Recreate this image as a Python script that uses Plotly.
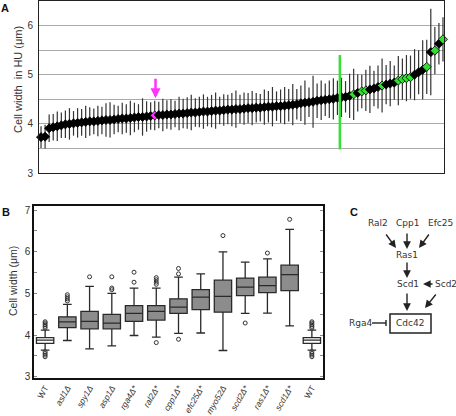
import plotly.graph_objects as go

W, H = 456, 416

# ---------------- Panel A data ----------------
a_values = [3.73, 3.74, 3.91, 3.93, 3.95, 3.97, 3.99, 4.00, 4.01, 4.02,
            4.03, 4.04, 4.05, 4.05, 4.06, 4.07, 4.08, 4.08, 4.09, 4.10,
            4.11, 4.11, 4.12, 4.13, 4.14, 4.14, 4.15, 4.16, 4.17, 4.18,
            4.18, 4.19, 4.19, 4.20, 4.21, 4.21, 4.22, 4.23, 4.23, 4.24,
            4.25, 4.25, 4.26, 4.27, 4.27, 4.28, 4.29, 4.29, 4.30, 4.30,
            4.31, 4.32, 4.32, 4.33, 4.33, 4.34, 4.35, 4.35, 4.36, 4.36,
            4.37, 4.38, 4.39, 4.40, 4.42, 4.43, 4.44, 4.45, 4.47, 4.48,
            4.49, 4.50, 4.51, 4.53, 4.54, 4.55, 4.57, 4.60, 4.63, 4.66,
            4.68, 4.70, 4.72, 4.75, 4.78, 4.80, 4.82, 4.84, 4.88, 4.91,
            4.93, 4.95, 5.00, 5.05, 5.10, 5.16, 5.46, 5.49, 5.63, 5.72]
a_errors = [0.22, 0.24, 0.28, 0.27, 0.30, 0.26, 0.28, 0.32, 0.25, 0.30,
            0.27, 0.33, 0.29, 0.26, 0.31, 0.28, 0.34, 0.36, 0.30, 0.27,
            0.32, 0.29, 0.35, 0.30, 0.26, 0.38, 0.31, 0.28, 0.30, 0.27,
            0.33, 0.29, 0.31, 0.27, 0.34, 0.30, 0.32, 0.36, 0.29, 0.31,
            0.35, 0.30, 0.33, 0.37, 0.28, 0.32, 0.30, 0.34, 0.38, 0.29,
            0.33, 0.31, 0.35, 0.30, 0.28, 0.36, 0.32, 0.40, 0.30, 0.34,
            0.38, 0.33, 0.42, 0.31, 0.36, 0.45, 0.30, 0.53, 0.35, 0.40,
            0.33, 0.38, 0.42, 0.35, 0.40, 0.32, 0.45, 0.52, 0.38, 0.34,
            0.42, 0.48, 0.36, 0.44, 0.55, 0.40, 0.46, 0.35, 0.50, 0.42,
            0.47, 0.44, 0.52, 0.45, 0.60, 0.55, 0.88, 0.48, 0.42, 0.45]
a_green_idx = [77, 79, 80, 84, 88, 89, 90, 91, 95, 97, 99]
a_pink_idx = [28]
wt_line_x = [73.6, 73.6]
wt_line_y = [3.48, 5.40]
pink_arrow_x = 28.2
pink_arrow_from = 4.95
pink_arrow_to = 4.52
a_tickvals = [3, 3.5, 4, 4.5, 5, 5.5, 6, 6.5]
a_ticktext = ["3", "", "4", "", "5", "", "6", ""]

# ---------------- Panel B data ----------------
b_labels = ["WT", "<i>asl1Δ</i>", "<i>spy1Δ</i>", "<i>asp1Δ</i>", "<i>rga4Δ*</i>",
            "<i>ral2Δ*</i>", "<i>cpp1Δ*</i>", "<i>efc25Δ*</i>", "<i>myo52Δ</i>",
            "<i>scd2Δ*</i>", "<i>ras1Δ*</i>", "<i>scd1Δ*</i>", "WT"]
b_q1 = [3.80, 4.18, 4.15, 4.15, 4.33, 4.36, 4.52, 4.61, 4.55, 4.95, 5.02, 5.07, 3.80]
b_median = [3.88, 4.32, 4.33, 4.29, 4.52, 4.57, 4.67, 4.91, 4.93, 5.15, 5.19, 5.45, 3.88]
b_q3 = [3.94, 4.44, 4.57, 4.50, 4.71, 4.71, 4.87, 5.09, 5.32, 5.37, 5.39, 5.68, 3.94]
b_low = [3.64, 3.87, 3.67, 3.74, 3.99, 3.95, 4.04, 4.05, 3.63, 4.52, 4.53, 4.22, 3.64]
b_high = [4.12, 4.74, 5.17, 5.00, 5.13, 5.13, 5.39, 5.47, 6.00, 5.75, 5.83, 6.54, 4.12]
b_outliers = [
    [4.17, 4.21, 4.25, 4.29, 4.32, 3.60, 3.56, 3.52, 3.48],
    [4.82, 4.87, 4.92, 4.97],
    [5.40],
    [5.40, 5.13, 5.09],
    [5.51, 5.27],
    [5.38, 5.33, 5.27, 5.22, 3.82],
    [5.60, 5.47, 3.90],
    [],
    [6.39],
    [4.29],
    [5.97],
    [6.78],
    [4.17, 4.21, 4.25, 4.29, 4.32, 3.60, 3.56, 3.52, 3.48],
]
b_wt_idx = [0, 12]
b_tickvals = [3, 3.5, 4, 4.5, 5, 5.5, 6, 6.5, 7]
b_ticktext = ["3", "", "4", "", "5", "", "6", "", "7"]

# ---------------- Panel C data ----------------
c_nodes = ["Ral2", "Cpp1", "Efc25", "Ras1", "Scd1", "Scd2", "Rga4", "Cdc42"]
c_node_px = [(378, 223), (407, 223), (440, 223), (407, 255), (408, 284),
             (446, 284), (360, 323), (410, 323)]
# arrows: head (px), tail offset (px)
c_arrows = [((396, 248), (-11, -15)), ((407, 249), (0, -17)), ((419, 248), (11, -15)),
            ((407, 278), (0, -17)), ((423, 284), (11, 0)), ((407, 311), (0, -19)),
            ((425, 308), (12, -15))]


def px(x):
    return x / W


def py(y):
    return 1 - y / H


fig = go.Figure()

# Panel A
n = len(a_values)
idx = list(range(n))
colors = []
for i in idx:
    if i in a_green_idx:
        colors.append("#33dd33")
    elif i in a_pink_idx:
        colors.append("#ff33ff")
    else:
        colors.append("#000000")
fig.add_trace(go.Scatter(
    x=idx, y=a_values, mode="markers", xaxis="x", yaxis="y",
    error_y=dict(type="data", array=a_errors, color="#333333", thickness=1.2, width=0),
    marker=dict(symbol="diamond", size=7, color=colors,
                line=dict(color="#000000", width=0.8)),
    cliponaxis=False, showlegend=False, hoverinfo="skip"))
fig.add_trace(go.Scatter(
    x=wt_line_x, y=wt_line_y, mode="lines", xaxis="x", yaxis="y",
    line=dict(color="#33e033", width=2.5), showlegend=False, hoverinfo="skip"))

# Panel B boxes
mut_idx = [i for i in range(len(b_labels)) if i not in b_wt_idx]
for group, fill in ((mut_idx, "#8c8c8c"), (b_wt_idx, "#ffffff")):
    fig.add_trace(go.Box(
        x=group, q1=[b_q1[i] for i in group], median=[b_median[i] for i in group],
        q3=[b_q3[i] for i in group], lowerfence=[b_low[i] for i in group],
        upperfence=[b_high[i] for i in group], xaxis="x2", yaxis="y2",
        fillcolor=fill, line=dict(color="#2a2a2a", width=1.3), width=0.78,
        whiskerwidth=0.5, boxpoints=False, showlegend=False, hoverinfo="skip"))
ox, oy = [], []
for i, vals in enumerate(b_outliers):
    for v in vals:
        ox.append(i)
        oy.append(v)
fig.add_trace(go.Scatter(
    x=ox, y=oy, mode="markers", xaxis="x2", yaxis="y2",
    marker=dict(symbol="circle-open", size=4, color="#333333", line=dict(width=1)),
    showlegend=False, hoverinfo="skip"))

annotations = []
shapes = []
font_main = "Liberation Sans, Arial, sans-serif"
C = dict(xanchor="center", yanchor="middle")

# Panel A extras
annotations.append(dict(x=pink_arrow_x, y=pink_arrow_to, ax=pink_arrow_x, ay=pink_arrow_from,
                        xref="x", yref="y", axref="x", ayref="y", showarrow=True,
                        arrowhead=2, arrowsize=0.8, arrowwidth=2.5, arrowcolor="#ff33ff", text=""))
annotations.append(dict(x=px(18), y=py(80), xref="paper", yref="paper", text="Cell width  in HU (μm)",
                        textangle=-90, showarrow=False, font=dict(size=11, color="#333", family=font_main), **C))
annotations.append(dict(x=px(13), y=py(281), xref="paper", yref="paper", text="Cell width (μm)",
                        textangle=-90, showarrow=False, font=dict(size=10.5, color="#333", family=font_main), **C))
for lab, (lx, ly) in (("A", (5, 8)), ("B", (6, 212)), ("C", (354, 212))):
    annotations.append(dict(x=px(lx), y=py(ly), xref="paper", yref="paper", text="<b>%s</b>" % lab,
                            showarrow=False, font=dict(size=11, color="#111", family=font_main), **C))

# Panel C
for name, (lx, ly) in zip(c_nodes, c_node_px):
    annotations.append(dict(x=px(lx), y=py(ly), xref="paper", yref="paper", text=name,
                            showarrow=False, font=dict(size=9, color="#333", family="DejaVu Sans"), **C))
for (hx, hy), (dx, dy) in c_arrows:
    annotations.append(dict(x=px(hx), y=py(hy), xref="paper", yref="paper", ax=dx, ay=dy,
                            showarrow=True, arrowhead=2, arrowsize=1.1, arrowwidth=1.4,
                            arrowcolor="#222", text=""))
shapes.append(dict(type="rect", xref="paper", yref="paper", x0=px(390), x1=px(431),
                   y0=py(333), y1=py(314), line=dict(color="#222", width=1.5)))
shapes.append(dict(type="line", xref="paper", yref="paper", x0=px(372), x1=px(386),
                   y0=py(323), y1=py(323), line=dict(color="#222", width=1.4)))
shapes.append(dict(type="line", xref="paper", yref="paper", x0=px(386), x1=px(386),
                   y0=py(320), y1=py(326), line=dict(color="#222", width=1.4)))

fig.update_layout(
    template="none",
    width=W, height=H, margin=dict(l=0, r=0, t=0, b=0, pad=0, autoexpand=False),
    paper_bgcolor="white", plot_bgcolor="white",
    font=dict(family=font_main, size=10, color="#333"),
    showlegend=False,
    xaxis=dict(domain=[px(39), px(444)], range=[-0.5, 99.25], showticklabels=False,
               showgrid=False, zeroline=False, showline=True, mirror=True, automargin=False,
               linecolor="#222", linewidth=1, ticks=""),
    yaxis=dict(domain=[py(173), py(1)], range=[3, 6.5], tickvals=a_tickvals, ticktext=a_ticktext,
               showgrid=True, gridcolor="#aaaaaa", gridwidth=1, zeroline=False, automargin=False,
               showline=True, mirror=True, linecolor="#222", linewidth=1, ticks="",
               tickfont=dict(size=10, color="#333"), ticklabelstandoff=3),
    xaxis2=dict(domain=[px(34), px(323)], range=[-0.5, 12.5], tickvals=list(range(len(b_labels))),
                ticktext=b_labels, tickangle=-60, showgrid=False, zeroline=False, automargin=False,
                showline=True, mirror=True, linecolor="#111", linewidth=1.5, ticks="",
                tickfont=dict(size=8.5, color="#333"), anchor="y2", ticklabelstandoff=0),
    yaxis2=dict(domain=[py(378), py(206)], range=[2.97, 7.1], tickvals=b_tickvals, ticktext=b_ticktext,
                showgrid=False, zeroline=False, showline=True, mirror="allticks", automargin=False,
                linecolor="#111", linewidth=1.5, ticks="inside", ticklen=3, tickcolor="#888",
                tickfont=dict(size=10, color="#333"), anchor="x2"),
    annotations=annotations, shapes=shapes,
)

fig.write_html("out.html", config={"displayModeBar": False},
               post_script="document.body.style.margin='0';document.body.style.overflow='hidden';")
